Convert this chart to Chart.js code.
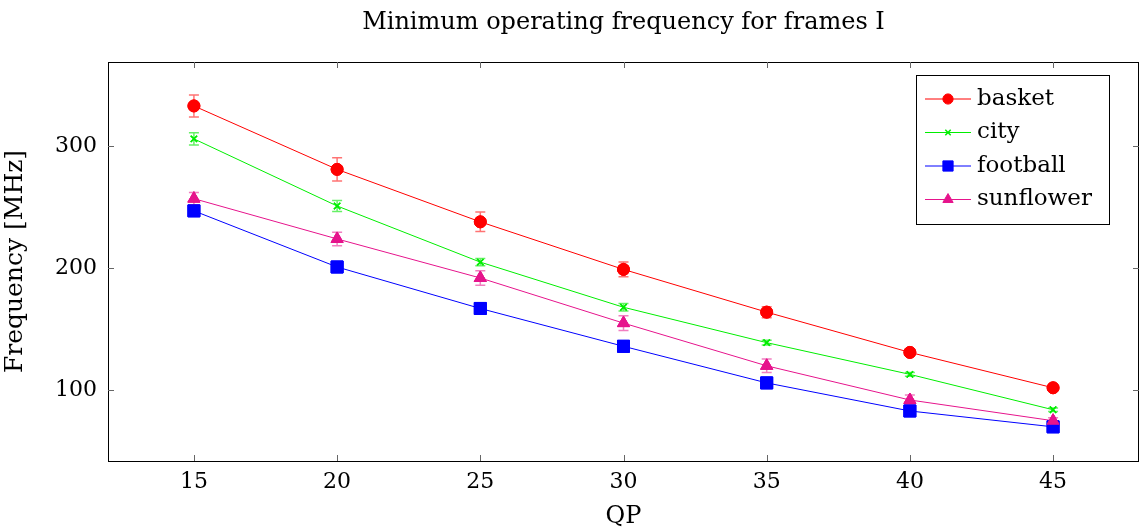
<!DOCTYPE html>
<html>
<head>
<meta charset="utf-8">
<script src="https://cdn.jsdelivr.net/npm/chart.js@4.4.1/dist/chart.umd.min.js"></script>
<style>
  html, body { margin: 0; padding: 0; background: #fff; }
  #wrap { width: 1140px; height: 532px; }
</style>
</head>
<body>
<div id="wrap"><canvas id="freqChart" width="1140" height="532"></canvas></div>
<script>
// QP values and measured frequencies (MHz)
const qp = [15, 20, 25, 30, 35, 40, 45];
const basket    = [333, 281, 238, 199, 164, 131, 102];
const city      = [306, 251, 205, 168, 139, 113, 84];
const football  = [247, 201, 167, 136, 106, 83, 70];
const sunflower = [257, 224, 192, 155, 120, 92, 75];

// error bar half-widths
const basketErr    = [9, 9.5, 8, 6, 4.5, 3, 2];
const cityErr      = [5, 4.5, 3, 3, 2, 1.5, 1.5];
const footballErr  = [1, 1, 1, 1, 1, 1, 1];
const sunflowerErr = [5, 5.5, 6, 6, 5.5, 4, 2.5];

const xTicks = [15, 20, 25, 30, 35, 40, 45];
const yTicks = [100, 200, 300];

const FONT = 'DejaVu Serif';

function pts(ys) { return qp.map((x, i) => ({ x, y: ys[i] })); }

const series = [
  { label: 'basket',    data: basket,    err: basketErr,    color: '#ff0000', errColor: 'rgba(255,0,0,0.55)',    style: 'circle',   radius: 6,   bw: 1 },
  { label: 'city',      data: city,      err: cityErr,      color: '#00ee00', errColor: 'rgba(0,230,0,0.6)',     style: 'crossRot', radius: 4.5, bw: 1.5 },
  { label: 'football',  data: football,  err: footballErr,  color: '#0000ff', errColor: 'rgba(0,0,255,0.5)',     style: 'rect',     radius: 8.5, bw: 1 },
  { label: 'sunflower', data: sunflower, err: sunflowerErr, color: '#e6148c', errColor: 'rgba(230,20,140,0.55)', style: 'triangle', radius: 7,   bw: 1 },
];

const errorBars = {
  id: 'errorBars',
  afterDatasetsDraw(chart) {
    const ctx = chart.ctx, ys = chart.scales.y;
    chart.data.datasets.forEach((ds, di) => {
      const meta = chart.getDatasetMeta(di);
      ctx.save();
      ctx.strokeStyle = ds.errColor;
      ctx.lineWidth = 1.5;
      meta.data.forEach((pt, i) => {
        const v = ds.data[i].y, e = ds.err[i];
        const top = ys.getPixelForValue(v + e), bot = ys.getPixelForValue(v - e);
        ctx.beginPath();
        ctx.moveTo(pt.x, top); ctx.lineTo(pt.x, bot);
        ctx.moveTo(pt.x - 5, top); ctx.lineTo(pt.x + 5, top);
        ctx.moveTo(pt.x - 5, bot); ctx.lineTo(pt.x + 5, bot);
        ctx.stroke();
      });
      ctx.restore();
    });
    // redraw markers over the error bars
    chart.data.datasets.forEach((ds, di) => {
      const meta = chart.getDatasetMeta(di);
      meta.data.forEach(pt => pt.draw(ctx, chart.chartArea));
    });
  }
};

const frame = {
  id: 'frame',
  afterDraw(chart) {
    const { ctx, chartArea: a, scales } = chart;
    ctx.save();
    ctx.strokeStyle = '#000';
    ctx.lineWidth = 1;
    ctx.strokeRect(Math.round(a.left) + 0.5, Math.round(a.top) + 0.5, Math.round(a.right - a.left) - 1, Math.round(a.bottom - a.top));
    ctx.strokeStyle = '#666';
    ctx.beginPath();
    xTicks.forEach(t => {
      const x = Math.round(scales.x.getPixelForValue(t)) + 0.5;
      ctx.moveTo(x, a.bottom); ctx.lineTo(x, a.bottom - 6);
      ctx.moveTo(x, a.top); ctx.lineTo(x, a.top + 6);
    });
    yTicks.forEach(t => {
      const y = Math.round(scales.y.getPixelForValue(t)) + 0.5;
      ctx.moveTo(a.left, y); ctx.lineTo(a.left + 6, y);
      ctx.moveTo(a.right, y); ctx.lineTo(a.right - 6, y);
    });
    ctx.stroke();

    // title
    ctx.fillStyle = '#000';
    ctx.font = '24px "' + FONT + '"';
    ctx.textAlign = 'center';
    ctx.textBaseline = 'middle';
    ctx.fillText('Minimum operating frequency for frames I', (a.left + a.right) / 2, 23);

    // legend
    const lx = 916, ly = 75, lw = 193, lh = 149;
    ctx.fillStyle = '#fff';
    ctx.fillRect(lx, ly, lw, lh);
    ctx.strokeStyle = '#000';
    ctx.strokeRect(lx + 0.5, ly + 0.5, lw, lh);
    ctx.font = '23px "' + FONT + '"';
    ctx.textAlign = 'left';
    chart.data.datasets.forEach((ds, i) => {
      const y = ly + 24 + i * 33.5;
      ctx.strokeStyle = ds.borderColor;
      ctx.lineWidth = 1;
      ctx.beginPath();
      ctx.moveTo(lx + 9, y); ctx.lineTo(lx + 55, y);
      ctx.stroke();
      ctx.fillStyle = ds.pointBackgroundColor;
      ctx.strokeStyle = ds.borderColor;
      ctx.lineWidth = ds.pointBorderWidth;
      Chart.helpers.drawPoint(ctx, { pointStyle: ds.pointStyle, radius: ds.pointRadius * 0.85, borderWidth: ds.pointBorderWidth, rotation: 0 }, lx + 32, y);
      ctx.fillStyle = '#000';
      ctx.fillText(ds.label, lx + 61, y);
    });
    ctx.restore();
  }
};

new Chart(document.getElementById('freqChart'), {
  type: 'line',
  data: {
    datasets: series.map(s => ({
      label: s.label,
      data: pts(s.data),
      err: s.err,
      errColor: s.errColor,
      borderColor: s.color,
      backgroundColor: s.color,
      pointBackgroundColor: s.color,
      pointBorderColor: s.color,
      pointStyle: s.style,
      pointRadius: s.radius,
      pointBorderWidth: s.bw,
      borderWidth: 1,
      tension: 0,
      fill: false,
    }))
  },
  options: {
    responsive: false,
    animation: false,
    layout: { autoPadding: false, padding: { top: 62, right: 1, left: 0, bottom: 0 } },
    plugins: {
      legend: { display: false },
      tooltip: { enabled: false },
      title: { display: false }
    },
    scales: {
      x: {
        type: 'linear',
        min: 12, max: 48,
        afterBuildTicks: s => { s.ticks = xTicks.map(v => ({ value: v })); },
        afterFit: s => { s.height = 71; s.paddingLeft = 0; s.paddingRight = 0; },
        grid: { display: false, drawTicks: false },
        border: { display: false },
        ticks: { color: '#000', font: { family: FONT, size: 22 }, padding: 8, maxRotation: 0 },
        title: { display: true, text: 'QP', color: '#000', font: { family: FONT, size: 24 }, padding: { top: 0, bottom: 1 } }
      },
      y: {
        min: 42, max: 369,
        afterBuildTicks: s => { s.ticks = yTicks.map(v => ({ value: v })); },
        afterFit: s => { s.width = 108; s.paddingTop = 0; s.paddingBottom = 0; },
        grid: { display: false, drawTicks: false },
        border: { display: false },
        ticks: { color: '#000', font: { family: FONT, size: 22 }, padding: 11 },
        title: { display: true, text: 'Frequency [MHz]', color: '#000', font: { family: FONT, size: 25 }, padding: { top: 0, bottom: 0 } }
      }
    }
  },
  plugins: [errorBars, frame]
});
</script>
</body>
</html>
